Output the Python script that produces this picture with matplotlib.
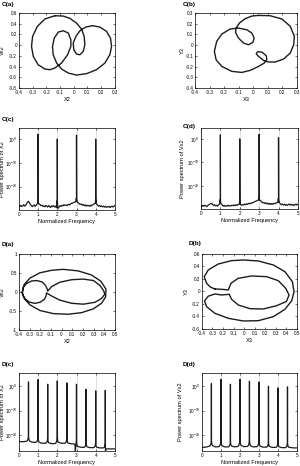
import matplotlib
matplotlib.use('Agg')
import matplotlib.pyplot as plt
import matplotlib.ticker as ticker
import numpy as np

plt.rcParams['font.family'] = ['Liberation Sans', 'DejaVu Sans']
plt.rcParams['axes.unicode_minus'] = False
plt.rcParams['mathtext.default'] = 'regular'

LINE = '#1c1c1c'

# ---- phase portraits ----
ca_x = [-0.138, -0.21, -0.266, -0.30, -0.308, -0.295, -0.26, -0.21, -0.174, -0.138,
        -0.089, -0.045, -0.021, -0.021, -0.04, -0.077, -0.113, -0.142, -0.155, -0.15,
        -0.125, -0.089, -0.04, 0.02, 0.093, 0.166, 0.227, 0.263, 0.276, 0.268,
        0.239, 0.19, 0.137, 0.088, 0.045, 0.016, -0.004, 0.0, 0.02, 0.045,
        0.069, 0.081, 0.076, 0.057, 0.02, -0.028, -0.077]
ca_y = [0.55, 0.49, 0.35, 0.165, -0.022, -0.21, -0.364, -0.445, -0.457, -0.426,
        -0.333, -0.178, -0.022, 0.10, 0.227, 0.27, 0.245, 0.133, -0.022, -0.178,
        -0.333, -0.445, -0.52, -0.557, -0.532, -0.457, -0.333, -0.178, -0.022, 0.133,
        0.258, 0.339, 0.364, 0.339, 0.27, 0.165, 0.04, -0.084, -0.165, -0.178,
        -0.115, 0.009, 0.165, 0.30, 0.413, 0.50, 0.544]

cb_x = [0.036, 0.116, 0.197, 0.254, 0.282, 0.277, 0.254, 0.208, 0.151, 0.105,
        0.07, 0.036, 0.02, 0.029, 0.059, 0.089, 0.093, 0.075, 0.036,
        -0.021, -0.079, -0.148, -0.216, -0.255, -0.267, -0.251, -0.216, -0.159, -0.102,
        -0.044, -0.01, 0.006, -0.003, -0.033, -0.067, -0.102, -0.122, -0.118, -0.095,
        -0.056, -0.01]
cb_y = [0.278, 0.275, 0.244, 0.176, 0.082, 0.004, -0.073, -0.129, -0.157, -0.157,
        -0.142, -0.104, -0.08, -0.061, -0.064, -0.098, -0.136, -0.167, -0.198,
        -0.235, -0.254, -0.244, -0.198, -0.136, -0.058, 0.036, 0.104, 0.151, 0.16,
        0.144, 0.113, 0.067, 0.026, 0.004, 0.02, 0.067, 0.12, 0.16, 0.207,
        0.247, 0.272]

da_x = [-0.369, -0.35, -0.297, -0.203, -0.094, 0.016, 0.156, 0.281, 0.369, 0.416,
        0.413, 0.375, 0.297, 0.188, 0.063, -0.078, -0.203, -0.297, -0.35, -0.368,
        -0.36, -0.33, -0.28, -0.23, -0.18, -0.15, -0.135, -0.13,
        -0.094, -0.016, 0.094, 0.203, 0.30, 0.36, 0.395, 0.405, 0.375, 0.3125,
        0.203, 0.094, -0.016, -0.094, -0.141,
        -0.145, -0.16, -0.20, -0.25, -0.30, -0.34, -0.36]
da_y = [-0.008, 0.198, 0.364, 0.504, 0.57, 0.595, 0.554, 0.446, 0.281, 0.074,
        -0.132, -0.297, -0.446, -0.545, -0.587, -0.57, -0.488, -0.339, -0.173, -0.05,
        0.12, 0.22, 0.29, 0.30, 0.26, 0.17, 0.08, 0.02,
        0.14, 0.256, 0.322, 0.339, 0.30, 0.17, 0.03, -0.06, -0.173, -0.273,
        -0.322, -0.298, -0.215, -0.107, -0.025,
        -0.1, -0.19, -0.27, -0.30, -0.27, -0.19, -0.09]

db_x = [-0.277, -0.214, -0.15, -0.125, -0.056, 0.07, 0.213, 0.323, 0.393, 0.425,
        0.40, 0.307, 0.181, 0.055, -0.056, -0.119, -0.141, -0.214, -0.277,
        -0.34, -0.375, -0.356, -0.277, -0.15, -0.008, 0.134, 0.276, 0.386, 0.45,
        0.472, 0.456, 0.386, 0.276, 0.134, -0.008, -0.119, -0.245, -0.34, -0.378,
        -0.356, -0.32]
db_y = [0.04, 0.035, 0.024, 0.131, 0.211, 0.248, 0.237, 0.173, 0.051, -0.056,
        -0.16, -0.227, -0.28, -0.275, -0.216, -0.125, -0.045, -0.056, -0.04,
        -0.075, -0.15, -0.243, -0.349, -0.429, -0.472, -0.467, -0.403, -0.285, -0.147,
        -0.003, 0.157, 0.317, 0.424, 0.488, 0.504, 0.493, 0.44, 0.344, 0.237,
        0.131, 0.07]

# ---- power spectra (log10 values) ----
spec_freq = np.round(np.arange(101) * 0.05, 2)

cc_base = [-28.0, -28.4, -27.9, -28.3, -28.1, -27.6, -28.2, -27.8, -27.2, -26.5,
           -26.2, -26.8, -27.6, -27.9, -28.4, -28.0, -27.7, -28.3, -27.9, -27.3,
           -27.0, -27.2, -27.6, -28.0, -27.8, -28.3, -28.1, -28.5, -27.9, -28.2,
           -28.6, -28.0, -28.3, -28.8, -28.1, -28.4, -28.0, -28.5, -28.2, -28.9,
           -28.7, -29.1, -28.4, -28.0, -28.3, -27.8, -28.1, -27.6, -27.9, -27.7,
           -28.0, -27.6, -27.4, -27.7, -27.2, -27.0, -26.9, -26.7, -26.5, -26.4,
           -26.2, -26.5, -26.9, -27.2, -27.5, -27.3, -27.8, -27.5, -28.0, -27.7,
           -28.2, -27.8, -28.1, -27.9, -28.3, -27.8, -28.0, -27.6, -27.4, -27.1,
           -27.0, -27.3, -27.8, -28.2, -28.0, -28.4, -28.1, -28.5, -28.2, -28.6,
           -28.3, -28.7, -28.4, -28.6, -28.3, -28.8, -28.5, -28.2, -28.6, -28.3,
           -27.9]
cc_peak_f = [0.98, 0.994, 1.0, 1.006, 1.02, 1.98, 1.994, 2.0, 2.006, 2.02,
             2.98, 2.994, 3.0, 3.006, 3.02, 3.98, 3.994, 4.0, 4.006, 4.02]
cc_peak_v = [-27.0, -25.5, 2.1, -25.8, -27.2, -28.5, -26.0, 0.0, -26.2, -28.7,
             -26.2, -24.8, 1.7, -25.0, -26.3, -27.0, -25.5, 0.0, -25.7, -27.1]

cd_base = [-28.4, -28.7, -28.3, -28.6, -28.2, -28.5, -28.8, -28.3, -28.0, -27.8,
           -27.5, -27.4, -27.9, -28.3, -28.0, -28.5, -28.2, -28.6, -28.1, -27.7,
           -27.2, -27.6, -28.2, -28.6, -28.3, -28.7, -28.4, -28.5, -28.2, -28.6,
           -28.3, -28.5, -28.2, -28.4, -28.1, -28.4, -28.0, -28.3, -28.0, -27.8,
           -27.5, -27.9, -28.2, -27.9, -28.1, -27.7, -28.0, -27.6, -27.8, -27.4,
           -27.6, -27.3, -27.5, -27.1, -27.0, -26.8, -26.6, -26.4, -26.2, -26.0,
           -25.9, -26.1, -26.5, -26.9, -27.2, -27.0, -27.5, -27.2, -27.6, -27.3,
           -27.8, -27.4, -27.9, -27.5, -27.8, -27.4, -27.6, -27.3, -27.2, -27.0,
           -26.8, -27.1, -27.6, -28.0, -27.7, -28.1, -27.8, -28.2, -27.9, -28.3,
           -28.0, -27.7, -28.1, -27.8, -28.2, -27.9, -28.3, -28.0, -27.7, -28.1,
           -27.8]
cd_peak_f = cc_peak_f
cd_peak_v = [-27.3, -25.8, 1.75, -26.0, -27.4, -27.6, -26.0, 0.03, -26.2, -27.8,
             -25.8, -24.5, 2.03, -24.7, -26.0, -26.9, -25.3, 0.6, -25.5, -27.0]

dc_f = [0, 0.2, 0.4, 0.45, 0.48, 0.495, 0.5, 0.505, 0.52, 0.55,
        0.7, 0.9, 0.95, 0.98, 0.995, 1.0, 1.005, 1.02, 1.05,
        1.2, 1.4, 1.45, 1.48, 1.495, 1.5, 1.505, 1.52, 1.55,
        1.7, 1.9, 1.95, 1.98, 1.995, 2.0, 2.005, 2.02, 2.05,
        2.2, 2.4, 2.45, 2.48, 2.495, 2.5, 2.505, 2.52, 2.55,
        2.7, 2.88, 2.92, 2.94, 2.97, 2.995, 3.0, 3.005, 3.02, 3.05,
        3.2, 3.4, 3.45, 3.48, 3.495, 3.5, 3.505, 3.52, 3.55,
        3.7, 3.9, 3.95, 3.98, 3.995, 4.0, 4.005, 4.02, 4.05,
        4.2, 4.4, 4.45, 4.48, 4.495, 4.5, 4.505, 4.51, 4.53,
        4.6, 4.8, 5.0]
dc_v = [-22.6, -22.7, -22.5, -22.1, -21.5, -20.3, 1.63, -20.5, -21.7, -22.4,
        -22.9, -22.9, -22.5, -21.8, -20.5, 2.58, -20.8, -22.2, -22.9,
        -23.3, -23.3, -22.9, -22.3, -21.2, 0.68, -21.4, -22.5, -23.1,
        -23.5, -23.4, -22.9, -22.0, -20.6, 2.04, -20.9, -22.3, -22.9,
        -23.3, -23.3, -22.9, -22.2, -21.0, 1.23, -21.3, -22.6, -23.2,
        -23.5, -23.6, -24.0, -26.4, -24.2, -22.0, 0.68, -22.4, -24.0, -24.6,
        -24.9, -25.0, -24.6, -23.9, -22.8, -1.35, -23.0, -24.2, -24.8,
        -25.1, -25.1, -24.7, -24.0, -23.0, -2.02, -23.2, -24.4, -24.9,
        -25.2, -25.2, -24.9, -24.2, -23.2, -1.75, -23.8, -26.4, -25.7,
        -25.6, -25.6, -25.6]

dd_f = [0, 0.2, 0.4, 0.45, 0.48, 0.495, 0.5, 0.505, 0.52, 0.55,
        0.7, 0.9, 0.95, 0.98, 0.995, 1.0, 1.005, 1.02, 1.05,
        1.2, 1.4, 1.45, 1.48, 1.495, 1.5, 1.505, 1.52, 1.55,
        1.7, 1.9, 1.95, 1.98, 1.995, 2.0, 2.005, 2.02, 2.05,
        2.2, 2.4, 2.45, 2.48, 2.495, 2.5, 2.505, 2.52, 2.55,
        2.7, 2.9, 2.95, 2.98, 2.995, 3.0, 3.005, 3.02, 3.05,
        3.2, 3.4, 3.45, 3.48, 3.495, 3.5, 3.505, 3.52, 3.55,
        3.7, 3.9, 3.95, 3.98, 3.995, 4.0, 4.005, 4.02, 4.05,
        4.2, 4.4, 4.45, 4.48, 4.495, 4.5, 4.505, 4.52, 4.55,
        4.8, 5.0]
dd_v = [-25.0, -24.9, -24.5, -24.0, -23.3, -22.2, 0.95, -22.4, -23.5, -24.2,
        -24.8, -24.7, -24.2, -23.4, -22.0, 2.71, -22.3, -23.6, -24.3,
        -24.8, -24.8, -24.3, -23.6, -22.5, 0.68, -22.7, -23.8, -24.4,
        -24.8, -24.6, -24.0, -23.0, -21.8, 2.71, -22.0, -23.3, -24.1,
        -24.7, -24.6, -24.1, -23.2, -22.1, 1.9, -22.3, -23.5, -24.3,
        -24.8, -24.7, -24.2, -23.4, -22.3, 1.63, -22.5, -23.7, -24.4,
        -24.9, -24.9, -24.5, -23.8, -22.9, -0.13, -23.1, -24.0, -24.6,
        -25.0, -25.0, -24.6, -23.9, -23.0, -0.8, -23.2, -24.1, -24.7,
        -25.1, -25.1, -24.7, -24.0, -23.1, -0.4, -23.3, -24.3, -24.9,
        -25.2, -25.2]

fig = plt.figure(figsize=(3.0, 4.66), dpi=100)


def style(ax):
    ax.tick_params(direction='in', length=1.5, width=0.4, labelsize=3.3, pad=1.3,
                   top=True, right=True)
    ax.tick_params(which='minor', length=0)
    for s in ax.spines.values():
        s.set_linewidth(0.5)
    ax.xaxis.set_major_formatter(ticker.FormatStrFormatter('%g'))


def phase(rect, x, y, xlim, xt, ylim, yt, xl, yl, ylx):
    ax = fig.add_axes(rect)
    ax.plot(list(x) + [x[0]], list(y) + [y[0]], color=LINE, lw=1.0)
    ax.set_xlim(xlim)
    ax.set_ylim(ylim)
    ax.set_xticks(xt)
    ax.set_yticks(yt)
    style(ax)
    ax.yaxis.set_major_formatter(ticker.FormatStrFormatter('%g'))
    ax.set_xlabel(xl, fontsize=4.1)
    ax.set_ylabel(yl, fontsize=4.1)
    ax.xaxis.set_label_coords(0.5, -0.12)
    ax.yaxis.set_label_coords(ylx, 0.5)
    return ax


def spectrum(rect, f, v, ylim, yl, ylx):
    ax = fig.add_axes(rect)
    order = np.argsort(f, kind='stable')
    ax.plot(np.asarray(f)[order], 10.0 ** np.asarray(v)[order], color=LINE, lw=0.9)
    ax.set_yscale('log')
    ax.set_ylim(10.0 ** ylim[0], 10.0 ** ylim[1])
    ax.set_xlim(0, 5)
    ax.set_xticks([0, 1, 2, 3, 4, 5])
    ax.set_yticks([1e-20, 1e-10, 1e0])
    ax.yaxis.set_minor_locator(ticker.NullLocator())
    ax.grid(axis='x', color='#c8c8c8', lw=0.4)
    style(ax)
    ax.set_xlabel('Normalized Frequency', fontsize=4.1)
    ax.set_ylabel(yl, fontsize=4.1)
    ax.xaxis.set_label_coords(0.5, -0.11)
    ax.yaxis.set_label_coords(ylx, 0.5)
    return ax


phase([0.063, 0.811, 0.32, 0.161], ca_x, ca_y, (-0.4, 0.3), np.arange(-4, 4) / 10,
      (-0.8, 0.6), np.arange(-8, 7, 2) / 10, 'X2', 'Vx2', -0.14)
phase([0.65, 0.811, 0.34, 0.161], cb_x, cb_y, (-0.4, 0.3), np.arange(-4, 4) / 10,
      (-0.4, 0.3), np.arange(-4, 4) / 10, 'X3', 'Y3', -0.1)

spectrum([0.063, 0.549, 0.32, 0.176], np.concatenate([spec_freq, cc_peak_f]),
         np.concatenate([cc_base, cc_peak_v]), (-29.9, 4.6), 'Power spectrum of X2', -0.14)
spectrum([0.67, 0.551, 0.323, 0.174], np.concatenate([spec_freq, cd_peak_f]),
         np.concatenate([cd_base, cd_peak_v]), (-29.9, 4.6), 'Power spectrum of Vx2', -0.165)

phase([0.063, 0.292, 0.32, 0.163], da_x, da_y, (-0.4, 0.5), np.arange(-4, 6) / 10,
      (-1, 1), [-1, -0.5, 0, 0.5, 1], 'X2', 'Vx2', -0.14)
phase([0.673, 0.294, 0.317, 0.161], db_x, db_y, (-0.4, 0.5), np.arange(-4, 6) / 10,
      (-0.6, 0.6), np.arange(-6, 7, 2) / 10, 'X3', 'Y3', -0.14)

spectrum([0.063, 0.032, 0.32, 0.167], dc_f, dc_v, (-26.5, 5.15), 'Power spectrum of X2', -0.14)
spectrum([0.673, 0.032, 0.317, 0.167], dd_f, dd_v, (-26.5, 5.15), 'Power spectrum of Vx2', -0.2)

panel_tags = ['C(a)', 'C(b)', 'C(c)', 'C(d)', 'D(a)', 'D(b)', 'D(c)', 'D(d)']
tag_pos = [(2, 2), (183, 2), (2, 117), (183, 124), (2, 242), (189, 241), (2, 362), (183, 362)]
for tag, (px, py) in zip(panel_tags, tag_pos):
    fig.text(px / 300, 1 - py / 466, tag, fontsize=4.6, fontweight='bold', va='top', ha='left')

fig.savefig('out.png', dpi=100)
